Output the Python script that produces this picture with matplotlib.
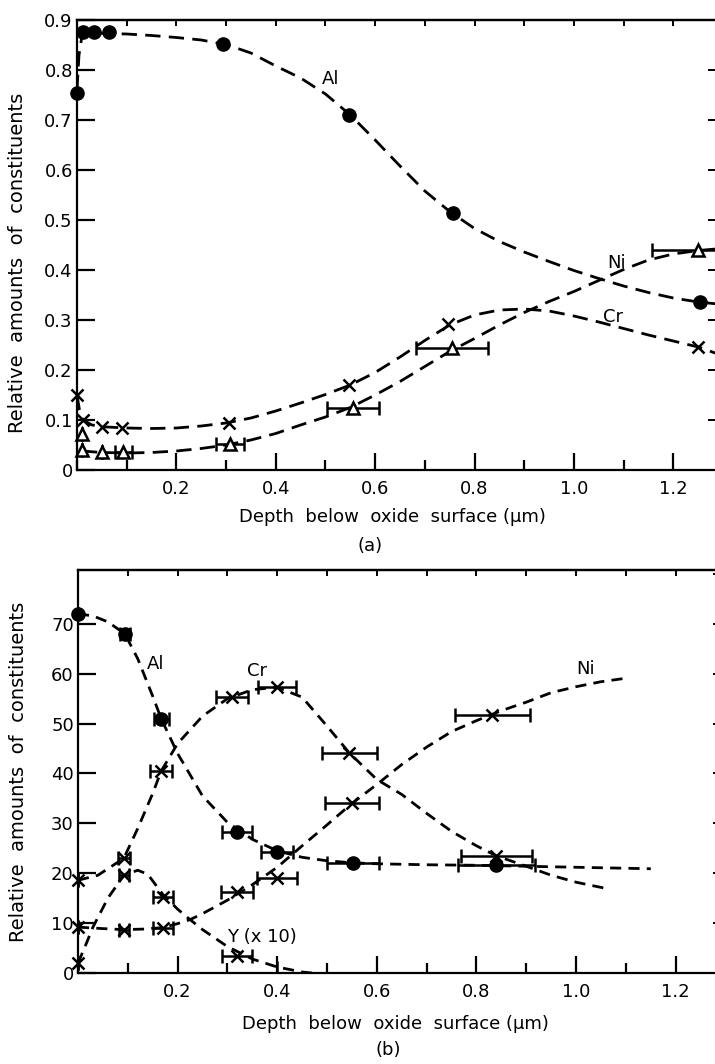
import matplotlib.pyplot as plt
from matplotlib.ticker import MultipleLocator, FixedLocator

plt.rcParams['font.family'] = ['DejaVu Sans']

# ---------------- panel (a): measured points ----------------
a_al_x = [0.0, 0.012, 0.034, 0.064, 0.294, 0.547, 0.757, 1.254]
a_al = [0.755, 0.876, 0.876, 0.876, 0.853, 0.711, 0.515, 0.336]

a_cr_x = [0.0, 0.012, 0.05, 0.09, 0.306, 0.547, 0.746, 1.25]
a_cr = [0.150, 0.100, 0.086, 0.085, 0.094, 0.170, 0.292, 0.246]

a_ni_x = [0.01, 0.01, 0.05, 0.093, 0.308, 0.556, 0.755, 1.25]
a_ni = [0.072, 0.040, 0.036, 0.036, 0.052, 0.125, 0.245, 0.440]
a_ni_err = [0.0, 0.0, 0.0, 0.017, 0.029, 0.052, 0.072, 0.093]

# panel (a): hand-drawn curves
a_al_cx = [0.0, 0.004, 0.01, 0.03, 0.06, 0.1, 0.15, 0.2, 0.25, 0.3, 0.35, 0.4, 0.45, 0.5,
           0.55, 0.6, 0.65, 0.7, 0.75, 0.8, 0.85, 0.9, 0.95, 1.0, 1.05, 1.1, 1.15, 1.2, 1.25, 1.31]
a_al_cy = [0.76, 0.83, 0.868, 0.874, 0.873, 0.872, 0.869, 0.865, 0.86, 0.851, 0.834, 0.808,
           0.784, 0.752, 0.71, 0.66, 0.608, 0.558, 0.517, 0.483, 0.457, 0.436, 0.417, 0.399,
           0.383, 0.368, 0.355, 0.344, 0.336, 0.33]

a_cr_cx = [0.0, 0.005, 0.012, 0.03, 0.06, 0.1, 0.15, 0.2, 0.25, 0.3, 0.35, 0.4, 0.45, 0.5,
           0.55, 0.6, 0.65, 0.7, 0.75, 0.8, 0.85, 0.9, 0.95, 1.0, 1.05, 1.1, 1.15, 1.2, 1.25, 1.31]
a_cr_cy = [0.15, 0.12, 0.1, 0.09, 0.086, 0.084, 0.083, 0.084, 0.088, 0.094, 0.104, 0.118,
           0.134, 0.151, 0.17, 0.195, 0.226, 0.259, 0.29, 0.31, 0.32, 0.322, 0.318, 0.308,
           0.296, 0.283, 0.27, 0.258, 0.246, 0.225]

a_ni_cx = [0.01, 0.05, 0.1, 0.15, 0.2, 0.25, 0.3, 0.35, 0.4, 0.45, 0.5, 0.55, 0.6, 0.65,
           0.7, 0.75, 0.8, 0.85, 0.9, 0.95, 1.0, 1.05, 1.1, 1.15, 1.2, 1.25, 1.31]
a_ni_cy = [0.038, 0.035, 0.034, 0.035, 0.038, 0.043, 0.05, 0.06, 0.073, 0.09, 0.106, 0.125,
           0.15, 0.177, 0.207, 0.237, 0.263, 0.29, 0.315, 0.337, 0.357, 0.379, 0.401, 0.42,
           0.432, 0.439, 0.444]

# ---------------- panel (b): measured points ----------------
b_al_x = [0.0, 0.094, 0.167, 0.32, 0.40, 0.552, 0.84]
b_al = [72.0, 68.0, 51.0, 28.3, 24.2, 22.0, 21.6]
b_al_err = [0.0, 0.01, 0.015, 0.03, 0.032, 0.052, 0.078]

b_cr_x = [0.0, 0.092, 0.167, 0.31, 0.40, 0.545, 0.84]
b_cr = [18.6, 23.0, 40.5, 55.3, 57.3, 44.1, 23.5]
b_cr_err = [0.0, 0.012, 0.022, 0.032, 0.038, 0.055, 0.072]

b_ni_x = [0.0, 0.092, 0.17, 0.32, 0.40, 0.55, 0.832]
b_ni = [9.2, 8.7, 9.0, 16.2, 19.0, 34.1, 51.7]
b_ni_err = [0.0, 0.01, 0.02, 0.032, 0.04, 0.055, 0.075]

b_y_x = [0.0, 0.092, 0.17, 0.32, 0.40]
b_y = [2.0, 19.6, 15.3, 3.5, 1.2]
b_y_err = [0.0, 0.01, 0.02, 0.03, 0.0]

# panel (b): curves
b_al_cx = [0.0, 0.03, 0.06, 0.094, 0.12, 0.15, 0.167, 0.2, 0.25, 0.3, 0.35, 0.4, 0.45, 0.5,
           0.55, 0.6, 0.7, 0.8, 0.9, 1.0, 1.1, 1.15]
b_al_cy = [72.0, 71.6, 70.4, 68.0, 63.0, 55.5, 51.0, 44.0, 35.5, 30.2, 26.8, 24.5, 23.2, 22.5,
           22.1, 21.9, 21.7, 21.6, 21.4, 21.2, 21.0, 20.9]

b_cr_cx = [0.0, 0.04, 0.092, 0.12, 0.15, 0.167, 0.2, 0.25, 0.3, 0.35, 0.4, 0.45, 0.5, 0.545,
           0.6, 0.65, 0.7, 0.75, 0.8, 0.84, 0.9, 0.95, 1.0, 1.058]
b_cr_cy = [18.6, 19.6, 23.0, 29.0, 36.0, 40.5, 46.0, 51.5, 55.0, 56.8, 57.3, 55.3, 49.5, 44.1,
           38.8, 35.8, 32.0, 28.4, 25.5, 23.5, 21.4, 19.6, 18.2, 17.0]

b_ni_cx = [0.0, 0.05, 0.092, 0.13, 0.17, 0.2, 0.225, 0.25, 0.3, 0.35, 0.4, 0.45, 0.5, 0.55,
           0.6, 0.65, 0.7, 0.75, 0.8, 0.85, 0.9, 0.95, 1.0, 1.05, 1.1]
b_ni_cy = [9.2, 8.9, 8.7, 8.8, 9.1, 9.9, 10.7, 11.9, 14.6, 17.7, 21.2, 25.5, 29.7, 34.0, 37.8,
           41.8, 45.3, 48.4, 50.6, 52.6, 54.3, 56.2, 57.4, 58.4, 59.1]

b_y_cx = [0.0, 0.015, 0.03, 0.06, 0.092, 0.12, 0.14, 0.17, 0.2, 0.225, 0.25, 0.3, 0.35, 0.4,
          0.45, 0.47]
b_y_cy = [2.0, 5.5, 9.2, 15.0, 19.6, 20.6, 19.8, 15.8, 12.8, 10.7, 8.7, 5.3, 2.8, 1.2, 0.2, 0.0]

x_ticks = [0.2, 0.4, 0.6, 0.8, 1.0, 1.2]
a_yticks = [0, 0.1, 0.2, 0.3, 0.4, 0.5, 0.6, 0.7, 0.8, 0.9]
a_ylabels = ['0', '0.1', '0.2', '0.3', '0.4', '0.5', '0.6', '0.7', '0.8', '0.9']
b_yticks = [0, 10, 20, 30, 40, 50, 60, 70]

ylab = 'Relative  amounts  of  constituents'
xlab = 'Depth  below  oxide  surface (\u00b5m)'

FS = 13
LW = 2.0
K = 'black'

fig = plt.figure(figsize=(7.15, 10.64), dpi=100)
W, H = 715.0, 1064.0


def frame(ax, xmax, ymax, yticks, ylabels, ystep):
    ax.set_xlim(0, xmax)
    ax.set_ylim(0, ymax)
    for s in ax.spines.values():
        s.set_linewidth(1.6)
    ax.xaxis.set_major_locator(FixedLocator(x_ticks))
    ax.xaxis.set_minor_locator(MultipleLocator(0.1))
    ax.set_xticklabels(['%.1f' % v for v in x_ticks])
    ax.set_yticks(yticks)
    ax.set_yticklabels(ylabels)
    ax.tick_params(axis='x', which='major', direction='in', length=12, width=1.6,
                   labelsize=FS, pad=7, top=False)
    ax.tick_params(axis='x', which='minor', direction='in', length=7, width=1.6, top=False)
    ax.tick_params(axis='y', which='major', direction='in', length=13, width=1.6,
                   labelsize=FS, pad=3, right=False)
    # short ticks along the top and right borders
    top = ax.secondary_xaxis('top')
    top.xaxis.set_major_locator(MultipleLocator(0.1))
    top.tick_params(direction='in', length=4, width=1.4, labeltop=False)
    top.spines['top'].set_linewidth(1.6)
    right = ax.secondary_yaxis('right')
    right.yaxis.set_major_locator(MultipleLocator(ystep))
    right.tick_params(direction='in', length=9, width=1.4, labelright=False)


# ---------------- panel (a) ----------------
ax1 = fig.add_axes([77 / W, 1 - 470 / H, (720 - 77) / W, 450 / H])
frame(ax1, 1.294, 0.9, a_yticks, a_ylabels, 0.1)

dash_a = (5.5, 3.0)
ax1.plot(a_al_cx, a_al_cy, color=K, lw=LW, dashes=dash_a)
ax1.plot(a_cr_cx, a_cr_cy, color=K, lw=LW, dashes=dash_a)
ax1.plot(a_ni_cx, a_ni_cy, color=K, lw=LW, dashes=dash_a)

ax1.plot(a_al_x, a_al, 'o', color=K, ms=9.5, clip_on=False, zorder=5)
ax1.plot(a_cr_x, a_cr, 'x', color=K, ms=8, mew=1.8, clip_on=False, zorder=5)
ax1.errorbar(a_ni_x, a_ni, xerr=a_ni_err, fmt='^', ms=8, mfc='white', mec=K, mew=1.8,
             ecolor=K, elinewidth=1.8, capsize=5, capthick=1.8, zorder=5, clip_on=False)

ax1.text(0.51, 0.783, 'Al', fontsize=FS, ha='center', va='center')
ax1.text(1.086, 0.415, 'Ni', fontsize=FS, ha='center', va='center')
ax1.text(1.078, 0.307, 'Cr', fontsize=FS, ha='center', va='center')

ax1.set_ylabel(ylab, fontsize=14)
ax1.yaxis.set_label_coords(-0.078, 0.46)
ax1.set_xlabel(xlab, fontsize=FS)
ax1.xaxis.set_label_coords(0.49, -0.085)
ax1.text(0.455, -0.168, '(a)', fontsize=FS, ha='center', va='center', transform=ax1.transAxes)

# ---------------- panel (b) ----------------
ax2 = fig.add_axes([78 / W, 1 - 973 / H, (725 - 78) / W, 403 / H])
frame(ax2, 1.299, 80.8, b_yticks, [str(v) for v in b_yticks], 10)

dash_b = (4.0, 2.6)
ax2.plot(b_al_cx, b_al_cy, color=K, lw=LW, dashes=dash_b)
ax2.plot(b_cr_cx, b_cr_cy, color=K, lw=LW, dashes=dash_b)
ax2.plot(b_ni_cx, b_ni_cy, color=K, lw=LW, dashes=dash_b)
ax2.plot(b_y_cx, b_y_cy, color=K, lw=LW, dashes=dash_b)

eb = dict(ecolor=K, elinewidth=1.8, capsize=5, capthick=1.8, zorder=5, clip_on=False)
ax2.errorbar(b_al_x, b_al, xerr=b_al_err, fmt='o', ms=9.5, color=K, **eb)
ax2.errorbar(b_cr_x, b_cr, xerr=b_cr_err, fmt='x', ms=8, mew=1.8, color=K, **eb)
ax2.errorbar(b_ni_x, b_ni, xerr=b_ni_err, fmt='x', ms=8, mew=1.8, color=K, **eb)
ax2.errorbar(b_y_x[:-1], b_y[:-1], xerr=b_y_err[:-1], fmt='x', ms=8, mew=1.8, color=K, **eb)
ax2.plot(b_y_x[-1:], b_y[-1:], '|', color=K, ms=8, mew=1.8)

ax2.text(0.155, 62.0, 'Al', fontsize=FS, ha='center', va='center')
ax2.text(0.36, 60.5, 'Cr', fontsize=FS, ha='center', va='center')
ax2.text(1.02, 61.0, 'Ni', fontsize=FS, ha='center', va='center')
ax2.text(0.37, 7.3, 'Y (x 10)', fontsize=FS, ha='center', va='center')

ax2.set_ylabel(ylab, fontsize=14)
ax2.yaxis.set_label_coords(-0.078, 0.5)
ax2.set_xlabel(xlab, fontsize=FS)
ax2.xaxis.set_label_coords(0.49, -0.105)
ax2.text(0.48, -0.19, '(b)', fontsize=FS, ha='center', va='center', transform=ax2.transAxes)

fig.savefig('out.png', dpi=100)
